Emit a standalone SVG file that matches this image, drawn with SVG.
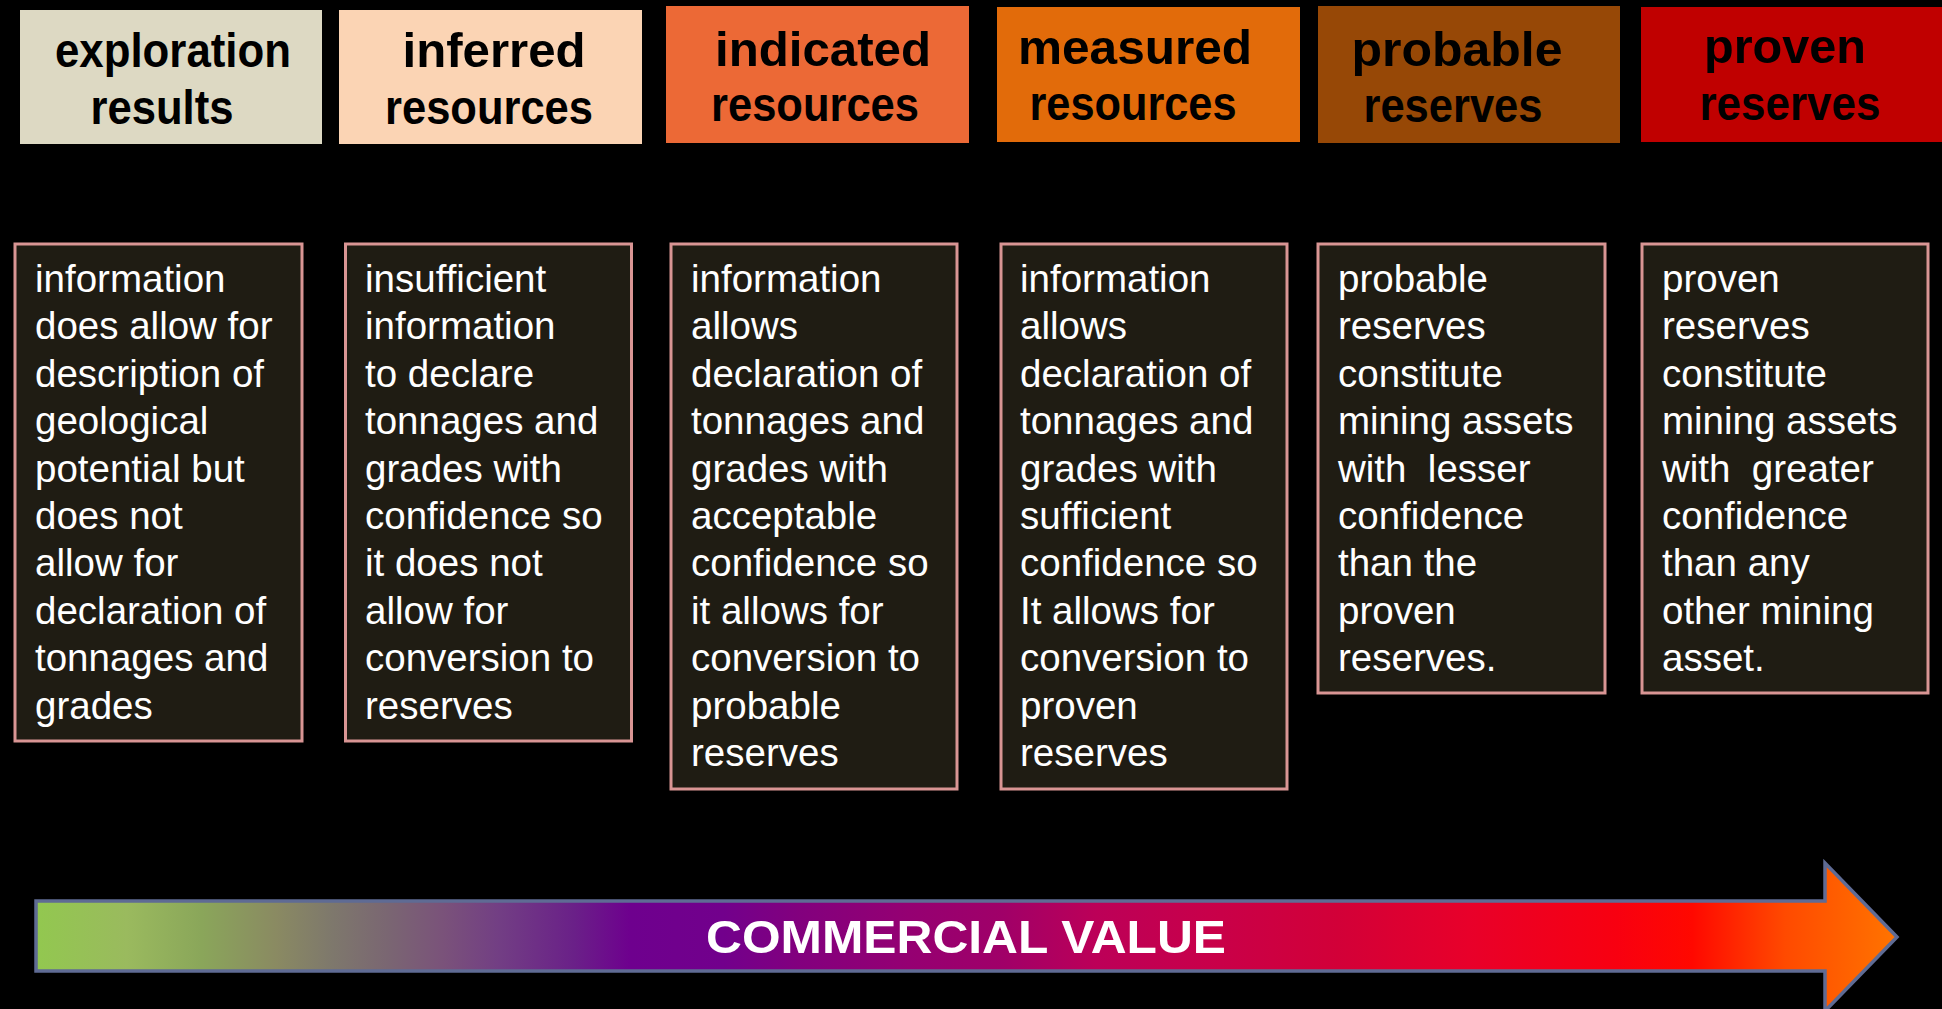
<svg xmlns="http://www.w3.org/2000/svg" width="1942" height="1009" viewBox="0 0 1942 1009">
<defs>
<style>
.hdr{font-family:"Liberation Sans",Arial,sans-serif;font-weight:bold;font-size:48px;fill:#000;text-anchor:middle}
.box{fill:#1F1C13;stroke:#D99594;stroke-width:3}
.txt{font-family:"Liberation Sans",Arial,sans-serif;font-size:38.5px;fill:#fff;white-space:pre}
.cv{font-family:"Liberation Sans",Arial,sans-serif;font-weight:bold;font-size:47px;fill:#fff;text-anchor:middle}
</style>
<linearGradient id="arrowGrad" gradientUnits="userSpaceOnUse" x1="34" y1="0" x2="1897" y2="0">
<stop offset="0" stop-color="#92C84F"/>
<stop offset="0.05" stop-color="#9ABA5E"/>
<stop offset="0.09" stop-color="#8AA65A"/>
<stop offset="0.13" stop-color="#8A8A62"/>
<stop offset="0.16" stop-color="#7E786C"/>
<stop offset="0.19" stop-color="#7A6672"/>
<stop offset="0.22" stop-color="#7A527A"/>
<stop offset="0.25" stop-color="#723E84"/>
<stop offset="0.29" stop-color="#6A2088"/>
<stop offset="0.32" stop-color="#6E008E"/>
<stop offset="0.37" stop-color="#72008C"/>
<stop offset="0.41" stop-color="#82007E"/>
<stop offset="0.47" stop-color="#950072"/>
<stop offset="0.52" stop-color="#A00068"/>
<stop offset="0.57" stop-color="#BC0058"/>
<stop offset="0.63" stop-color="#C8004A"/>
<stop offset="0.70" stop-color="#D20038"/>
<stop offset="0.77" stop-color="#E8002A"/>
<stop offset="0.85" stop-color="#F80010"/>
<stop offset="0.89" stop-color="#FF0800"/>
<stop offset="0.94" stop-color="#FF4A00"/>
<stop offset="1" stop-color="#FF7400"/>
</linearGradient>
</defs>
<rect x="0" y="0" width="1942" height="1009" fill="#000"/>

<g id="header-exploration">
<rect x="20" y="10" width="302" height="134" fill="#DDD9C3"/>
<text class="hdr" x="173" y="67" textLength="236" lengthAdjust="spacingAndGlyphs">exploration</text>
<text class="hdr" x="162" y="124" textLength="143" lengthAdjust="spacingAndGlyphs">results</text>
</g>
<g id="header-inferred">
<rect x="339" y="10" width="303" height="134" fill="#FBD4B4"/>
<text class="hdr" x="494" y="67" textLength="183" lengthAdjust="spacingAndGlyphs">inferred</text>
<text class="hdr" x="489" y="124" textLength="208" lengthAdjust="spacingAndGlyphs">resources</text>
</g>
<g id="header-indicated">
<rect x="666" y="6" width="303" height="137" fill="#EC6936"/>
<text class="hdr" x="823" y="66" textLength="216" lengthAdjust="spacingAndGlyphs">indicated</text>
<text class="hdr" x="815" y="121" textLength="208" lengthAdjust="spacingAndGlyphs">resources</text>
</g>
<g id="header-measured">
<rect x="997" y="7" width="303" height="135" fill="#E26B0A"/>
<text class="hdr" x="1135" y="64" textLength="234" lengthAdjust="spacingAndGlyphs">measured</text>
<text class="hdr" x="1133" y="120" textLength="207" lengthAdjust="spacingAndGlyphs">resources</text>
</g>
<g id="header-probable">
<rect x="1318" y="6" width="302" height="137" fill="#974806"/>
<text class="hdr" x="1457" y="66" textLength="211" lengthAdjust="spacingAndGlyphs">probable</text>
<text class="hdr" x="1453" y="122" textLength="179" lengthAdjust="spacingAndGlyphs">reserves</text>
</g>
<g id="header-proven">
<rect x="1641" y="7" width="301" height="135" fill="#C00000"/>
<text class="hdr" x="1785" y="63" textLength="162" lengthAdjust="spacingAndGlyphs">proven</text>
<text class="hdr" x="1790" y="120" textLength="181" lengthAdjust="spacingAndGlyphs">reserves</text>
</g>

<g id="desc-exploration">
<rect class="box" x="15" y="244" width="287" height="497"/>
<text class="txt" x="35" y="292">information</text>
<text class="txt" x="35" y="339.4">does allow for</text>
<text class="txt" x="35" y="386.8">description of</text>
<text class="txt" x="35" y="434.2">geological</text>
<text class="txt" x="35" y="481.6">potential but</text>
<text class="txt" x="35" y="529">does not</text>
<text class="txt" x="35" y="576.4">allow for</text>
<text class="txt" x="35" y="623.8">declaration of</text>
<text class="txt" x="35" y="671.2">tonnages and</text>
<text class="txt" x="35" y="718.6">grades</text>
</g>
<g id="desc-inferred">
<rect class="box" x="345.5" y="244" width="286" height="497"/>
<text class="txt" x="365" y="292">insufficient</text>
<text class="txt" x="365" y="339.4">information</text>
<text class="txt" x="365" y="386.8">to declare</text>
<text class="txt" x="365" y="434.2">tonnages and</text>
<text class="txt" x="365" y="481.6">grades with</text>
<text class="txt" x="365" y="529">confidence so</text>
<text class="txt" x="365" y="576.4">it does not</text>
<text class="txt" x="365" y="623.8">allow for</text>
<text class="txt" x="365" y="671.2">conversion to</text>
<text class="txt" x="365" y="718.6">reserves</text>
</g>
<g id="desc-indicated">
<rect class="box" x="671" y="244" width="286" height="545"/>
<text class="txt" x="691" y="292">information</text>
<text class="txt" x="691" y="339.4">allows</text>
<text class="txt" x="691" y="386.8">declaration of</text>
<text class="txt" x="691" y="434.2">tonnages and</text>
<text class="txt" x="691" y="481.6">grades with</text>
<text class="txt" x="691" y="529">acceptable</text>
<text class="txt" x="691" y="576.4">confidence so</text>
<text class="txt" x="691" y="623.8">it allows for</text>
<text class="txt" x="691" y="671.2">conversion to</text>
<text class="txt" x="691" y="718.6">probable</text>
<text class="txt" x="691" y="766">reserves</text>
</g>
<g id="desc-measured">
<rect class="box" x="1001" y="244" width="286" height="545"/>
<text class="txt" x="1020" y="292">information</text>
<text class="txt" x="1020" y="339.4">allows</text>
<text class="txt" x="1020" y="386.8">declaration of</text>
<text class="txt" x="1020" y="434.2">tonnages and</text>
<text class="txt" x="1020" y="481.6">grades with</text>
<text class="txt" x="1020" y="529">sufficient</text>
<text class="txt" x="1020" y="576.4">confidence so</text>
<text class="txt" x="1020" y="623.8">It allows for</text>
<text class="txt" x="1020" y="671.2">conversion to</text>
<text class="txt" x="1020" y="718.6">proven</text>
<text class="txt" x="1020" y="766">reserves</text>
</g>
<g id="desc-probable">
<rect class="box" x="1318" y="244" width="287" height="449"/>
<text class="txt" x="1338" y="292">probable</text>
<text class="txt" x="1338" y="339.4">reserves</text>
<text class="txt" x="1338" y="386.8">constitute</text>
<text class="txt" x="1338" y="434.2">mining assets</text>
<text class="txt" x="1338" y="481.6">with  lesser</text>
<text class="txt" x="1338" y="529">confidence</text>
<text class="txt" x="1338" y="576.4">than the</text>
<text class="txt" x="1338" y="623.8">proven</text>
<text class="txt" x="1338" y="671.2">reserves.</text>
</g>
<g id="desc-proven">
<rect class="box" x="1642" y="244" width="286" height="449"/>
<text class="txt" x="1662" y="292">proven</text>
<text class="txt" x="1662" y="339.4">reserves</text>
<text class="txt" x="1662" y="386.8">constitute</text>
<text class="txt" x="1662" y="434.2">mining assets</text>
<text class="txt" x="1662" y="481.6">with  greater</text>
<text class="txt" x="1662" y="529">confidence</text>
<text class="txt" x="1662" y="576.4">than any</text>
<text class="txt" x="1662" y="623.8">other mining</text>
<text class="txt" x="1662" y="671.2">asset.</text>
</g>

<g id="commercial-value-arrow">
<path d="M36,901 L1825,901 L1825,863 L1897,937 L1825,1011 L1825,971 L36,971 Z" fill="url(#arrowGrad)" stroke="#5F6B94" stroke-width="3.5" stroke-linejoin="miter"/>
<text class="cv" x="966" y="953" textLength="520" lengthAdjust="spacingAndGlyphs">COMMERCIAL VALUE</text>
</g>
</svg>
